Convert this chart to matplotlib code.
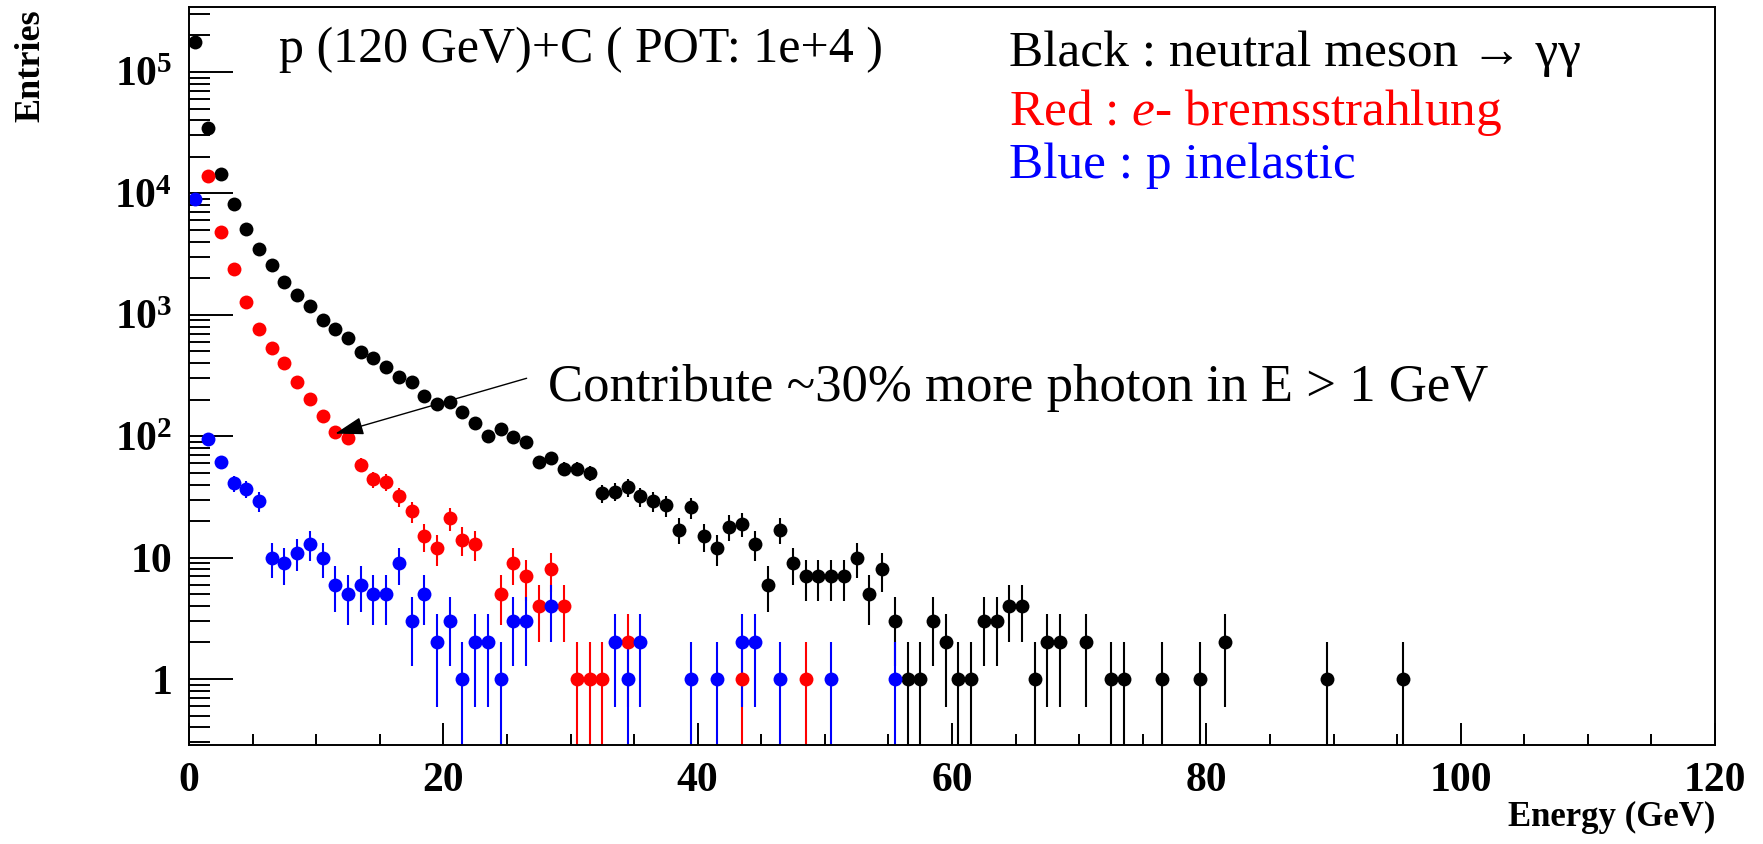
import numpy as np
import matplotlib
matplotlib.use("Agg")
import matplotlib.pyplot as plt
from matplotlib.ticker import FixedLocator, FixedFormatter, MultipleLocator, NullFormatter

plt.rcParams['mathtext.fontset'] = 'custom'
plt.rcParams['mathtext.rm'] = 'Liberation Serif'
plt.rcParams['mathtext.it'] = 'Liberation Serif:italic'
plt.rcParams['mathtext.bf'] = 'Liberation Serif:bold'

# entries per 1 GeV bin, starting at bin 0-1 GeV
black_counts = [177000, 34400, 14500, 8200, 5070, 3470, 2550, 1850, 1450, 1180,
                898, 767, 643, 493, 437, 375, 305, 277, 213, 184,
                190, 157, 129, 101, 115, 98, 90, 61, 66, 54,
                54, 50, 34, 35, 38, 32, 29, 27, 17, 26,
                15, 12, 18, 19, 13, 6, 17, 9, 7, 7,
                7, 7, 10, 5, 8, 3, 1, 1, 3, 2,
                1, 1, 3, 3, 4, 4, 1, 2, 2, 0,
                2, 0, 1, 1, 0, 0, 1, 0, 0, 1,
                0, 2, 0, 0, 0, 0, 0, 0, 0, 1,
                0, 0, 0, 0, 0, 1]
red_counts = [0, 14000, 4800, 2400, 1280, 770, 535, 400, 281, 202,
              146, 108, 97, 58, 44, 42, 32, 24, 15, 12,
              21, 14, 13, 0, 5, 9, 7, 4, 8, 4,
              1, 1, 1, 0, 2, 0, 0, 0, 0, 0,
              0, 0, 0, 1, 0, 0, 0, 0, 1]
blue_counts = [9000, 95, 61, 41, 37, 29, 10, 9, 11, 13,
               10, 6, 5, 6, 5, 5, 9, 3, 5, 2,
               3, 1, 2, 2, 1, 3, 3, 0, 4, 0,
               0, 0, 0, 2, 1, 2, 0, 0, 0, 1,
               0, 1, 0, 2, 2, 0, 1, 0, 0, 0,
               1, 0, 0, 0, 0, 1]

ytick_values = [1, 10, 100, 1000, 10000, 100000]
ytick_labels = ['1', '10', r'$\mathbf{10^{2}}$', r'$\mathbf{10^{3}}$',
                r'$\mathbf{10^{4}}$', r'$\mathbf{10^{5}}$']

serif = ['Liberation Serif', 'DejaVu Serif']

fig = plt.figure(figsize=(17.63, 8.44), dpi=100)
ax = fig.add_axes([0.1072, 0.1173, 0.8656, 0.8744])

for counts, col in [(black_counts, 'black'), (red_counts, 'red'), (blue_counts, 'blue')]:
    n = np.array(counts, dtype=float)
    centers = np.arange(len(n)) + 0.5
    keep = n > 0
    ax.errorbar(centers[keep], n[keep], yerr=np.sqrt(n[keep]), fmt='o', color=col,
                ms=10, mew=0, elinewidth=1.5, capsize=3, capthick=1.5)

ax.set_yscale('log')
ax.set_xlim(0, 120)
ax.set_ylim(0.286, 3.43e5)

ax.xaxis.set_major_locator(MultipleLocator(20))
ax.xaxis.set_minor_locator(MultipleLocator(5))
ax.yaxis.set_major_locator(FixedLocator(ytick_values))
ax.yaxis.set_major_formatter(FixedFormatter(ytick_labels))
minor_y = [m * 10.0 ** e for e in range(-1, 6) for m in range(2, 10)]
ax.yaxis.set_minor_locator(FixedLocator(minor_y))
ax.yaxis.set_minor_formatter(NullFormatter())

ax.tick_params(axis='both', which='both', direction='in', top=False, right=False, width=1.4)
ax.tick_params(axis='y', which='major', length=32, pad=12)
ax.tick_params(axis='y', which='minor', length=15)
ax.tick_params(axis='x', which='major', length=16, pad=12)
ax.tick_params(axis='x', which='minor', length=8)
for lab in ax.get_xticklabels() + ax.get_yticklabels():
    lab.set_fontfamily(serif)
    lab.set_fontweight('bold')
    lab.set_fontsize(30)
for sp in ax.spines.values():
    sp.set_linewidth(1.4)

fig.text(0.0176, 0.989, 'Entries', rotation=90, ha='center', va='top',
         family=serif, fontweight='bold', fontsize=26)
fig.text(0.9728, 0.032, 'Energy (GeV)', ha='right', va='center',
         family=serif, fontweight='bold', fontsize=25)

ax.text(0.059, 0.9417, 'p (120 GeV)+C ( POT: 1e+4 )', transform=ax.transAxes,
        ha='left', va='center', family=serif, fontsize=36)
ax.text(0.5373, 0.9363, 'Black : neutral meson \u2192 \u03b3\u03b3', transform=ax.transAxes,
        ha='left', va='center', family=serif, fontsize=37, color='black')
ax.text(0.5373, 0.8577, r'Red : $\mathit{e}$- bremsstrahlung', transform=ax.transAxes,
        ha='left', va='center', family=serif, fontsize=37, color='red')
ax.text(0.5373, 0.7846, 'Blue : p inelastic', transform=ax.transAxes,
        ha='left', va='center', family=serif, fontsize=37, color='blue')
ax.text(0.2353, 0.4837, 'Contribute ~30% more photon in E > 1 GeV', transform=ax.transAxes,
        ha='left', va='center', family=serif, fontsize=38)

ax.annotate('', xy=(11.5, 105), xytext=(26.55, 300),
            arrowprops=dict(arrowstyle='-|>,head_length=0.8,head_width=0.25',
                            color='black', lw=1, mutation_scale=22, shrinkA=0, shrinkB=0))

fig.savefig('out.png', dpi=100)
